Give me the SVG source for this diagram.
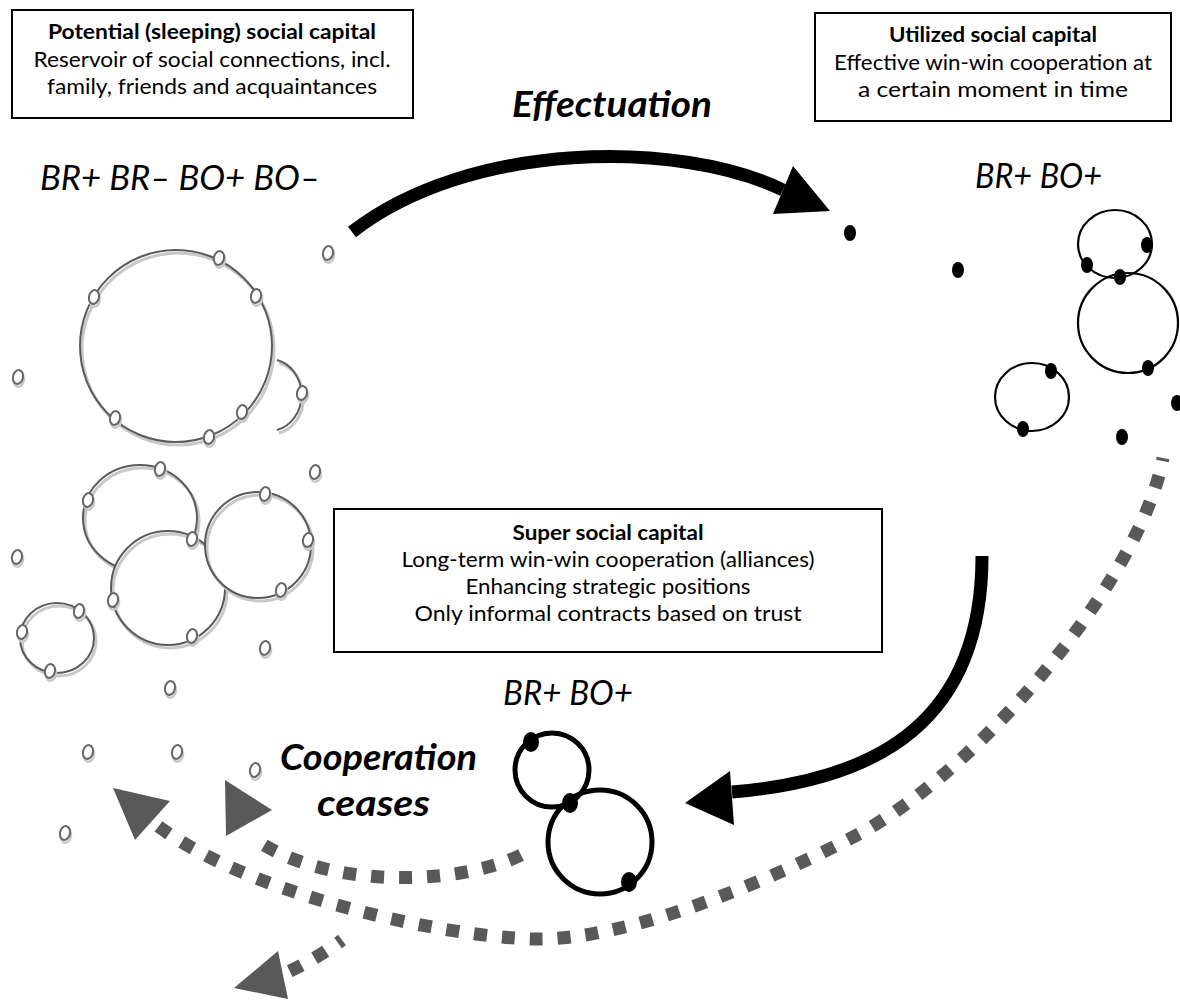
<svg xmlns="http://www.w3.org/2000/svg" xmlns:xlink="http://www.w3.org/1999/xlink" width="1180" height="1000" viewBox="0 0 1180 1000">
<style>
.box{fill:#fff;stroke:#000;stroke-width:2}
.bt{font-family:Lato,'Liberation Sans',sans-serif;font-size:21px;fill:#000;text-anchor:middle}
.b{font-weight:bold}
.it{font-family:Lato,'Liberation Sans',sans-serif;font-style:italic;font-size:34px;fill:#000}
.bi{font-family:Lato,'Liberation Sans',sans-serif;font-style:italic;font-weight:bold;font-size:36px;fill:#000}
.gsh{fill:none;stroke:#c8c8c8;stroke-width:3}
.gln{fill:none;stroke:#5a5a5a;stroke-width:2}
.wf{fill:#fff;stroke:none}
.nsh{fill:none;stroke:#c8c8c8;stroke-width:2.5}
.nln{fill:#fff;stroke:#666;stroke-width:2}
.kring{fill:none;stroke:#000;stroke-width:2.2}
.kdot{fill:#000}
.bring{fill:none;stroke:#000;stroke-width:5}
.thick{fill:none;stroke:#000;stroke-width:13}
.dash{fill:none;stroke:#595959;stroke-width:13;stroke-dasharray:13 15}
.dhead{fill:#595959}
</style>
<defs>
<g id="gn"><ellipse cx="1.5" cy="2.5" rx="5" ry="7" transform="rotate(12)" class="nsh"/><ellipse rx="5" ry="7" transform="rotate(12)" class="nln"/></g>
<ellipse id="kd" rx="6" ry="8" class="kdot"/>
<ellipse id="bd" rx="8" ry="10" class="kdot"/>
</defs>
<rect width="1180" height="1000" fill="#fff"/>

<g id="node-potential">
<rect class="box" x="12" y="10" width="401" height="108"/>
<text class="bt b" x="212" y="39" textLength="328" lengthAdjust="spacingAndGlyphs">Potential (sleeping) social capital</text>
<text class="bt" x="212" y="67" textLength="357" lengthAdjust="spacingAndGlyphs">Reservoir of social connections, incl.</text>
<text class="bt" x="212" y="94" textLength="330" lengthAdjust="spacingAndGlyphs">family, friends and acquaintances</text>
</g>

<g id="node-utilized">
<rect class="box" x="815" y="13" width="356" height="108"/>
<text class="bt b" x="993" y="42" textLength="208" lengthAdjust="spacingAndGlyphs">Utilized social capital</text>
<text class="bt" x="993" y="70" textLength="318" lengthAdjust="spacingAndGlyphs">Effective win-win cooperation at</text>
<text class="bt" x="993" y="97" textLength="270" lengthAdjust="spacingAndGlyphs">a certain moment in time</text>
</g>

<g id="node-super">
<rect class="box" x="334" y="509" width="548" height="143"/>
<text class="bt b" x="608" y="540" textLength="191" lengthAdjust="spacingAndGlyphs">Super social capital</text>
<text class="bt" x="608" y="567" textLength="413" lengthAdjust="spacingAndGlyphs">Long-term win-win cooperation (alliances)</text>
<text class="bt" x="608" y="594" textLength="285" lengthAdjust="spacingAndGlyphs">Enhancing strategic positions</text>
<text class="bt" x="608" y="621" textLength="387" lengthAdjust="spacingAndGlyphs">Only informal contracts based on trust</text>
</g>

<g id="labels">
<text class="bi" x="512" y="117" textLength="200" lengthAdjust="spacingAndGlyphs">Effectuation</text>
<text class="it" x="40" y="190" textLength="280" lengthAdjust="spacingAndGlyphs">BR+ BR– BO+ BO–</text>
<text class="it" x="975" y="188" textLength="127" lengthAdjust="spacingAndGlyphs">BR+ BO+</text>
<text class="it" x="503" y="705" textLength="130" lengthAdjust="spacingAndGlyphs">BR+ BO+</text>
<text class="bi" x="280" y="770" textLength="197" lengthAdjust="spacingAndGlyphs">Cooperation</text>
<text class="bi" x="317" y="816" textLength="113" lengthAdjust="spacingAndGlyphs">ceases</text>
</g>

<g id="node-potential-network">
<circle class="gsh" cx="178" cy="349" r="96"/>
<circle class="gln" cx="176" cy="346" r="96"/>
<path class="gsh" d="M 279 363 A 32 36 0 0 1 279 433"/>
<path class="gln" d="M 277 360 A 32 36 0 0 1 277 430"/>
<ellipse class="gsh" cx="142" cy="521" rx="57" ry="53"/>
<ellipse class="gln" cx="140" cy="518" rx="57" ry="53"/>
<circle class="wf" cx="168" cy="588" r="57"/>
<circle class="gsh" cx="170" cy="591" r="57"/>
<circle class="gln" cx="168" cy="588" r="57"/>
<circle class="wf" cx="258" cy="545" r="53"/>
<circle class="gsh" cx="260" cy="548" r="53"/>
<circle class="gln" cx="258" cy="545" r="53"/>
<ellipse class="gsh" cx="59" cy="641" rx="37" ry="35"/>
<ellipse class="gln" cx="57" cy="638" rx="37" ry="35"/>
<use xlink:href="#gn" x="94" y="297"/>
<use xlink:href="#gn" x="219" y="258"/>
<use xlink:href="#gn" x="256" y="296"/>
<use xlink:href="#gn" x="115" y="418"/>
<use xlink:href="#gn" x="209" y="437"/>
<use xlink:href="#gn" x="242" y="412"/>
<use xlink:href="#gn" x="302" y="393"/>
<use xlink:href="#gn" x="160" y="469"/>
<use xlink:href="#gn" x="88" y="500"/>
<use xlink:href="#gn" x="192" y="539"/>
<use xlink:href="#gn" x="113" y="600"/>
<use xlink:href="#gn" x="192" y="636"/>
<use xlink:href="#gn" x="265" y="494"/>
<use xlink:href="#gn" x="308" y="540"/>
<use xlink:href="#gn" x="281" y="590"/>
<use xlink:href="#gn" x="79" y="611"/>
<use xlink:href="#gn" x="22" y="632"/>
<use xlink:href="#gn" x="50" y="671"/>
<use xlink:href="#gn" x="328" y="253"/>
<use xlink:href="#gn" x="18" y="377"/>
<use xlink:href="#gn" x="315" y="472"/>
<use xlink:href="#gn" x="17" y="557"/>
<use xlink:href="#gn" x="265" y="648"/>
<use xlink:href="#gn" x="170" y="688"/>
<use xlink:href="#gn" x="88" y="752"/>
<use xlink:href="#gn" x="177" y="752"/>
<use xlink:href="#gn" x="255" y="770"/>
<use xlink:href="#gn" x="65" y="833"/>
</g>

<g id="node-utilized-network">
<ellipse class="kring" cx="1115" cy="244" rx="37" ry="34"/>
<circle class="kring" cx="1128" cy="323" r="50"/>
<ellipse class="kring" cx="1032" cy="397" rx="37" ry="34"/>
<use xlink:href="#kd" x="1147" y="245"/>
<use xlink:href="#kd" x="1087" y="265"/>
<use xlink:href="#kd" x="1120" y="277"/>
<use xlink:href="#kd" x="1148" y="368"/>
<use xlink:href="#kd" x="1051" y="371"/>
<use xlink:href="#kd" x="1023" y="429"/>
<use xlink:href="#kd" x="850" y="233"/>
<use xlink:href="#kd" x="958" y="270"/>
<use xlink:href="#kd" x="1122" y="437"/>
<use xlink:href="#kd" x="1177" y="403"/>
</g>

<g id="node-super-network">
<circle class="bring" cx="552" cy="770" r="37"/>
<circle class="bring" cx="600" cy="842" r="52"/>
<use xlink:href="#bd" x="531" y="742"/>
<use xlink:href="#bd" x="570" y="803"/>
<use xlink:href="#bd" x="629" y="882"/>
</g>

<g id="connectors">
<path class="thick" d="M 352 232 C 470 140 680 140 783 190"/>
<polygon points="793,166 830,211 773,214" fill="#000"/>
<path class="thick" d="M 982 556 C 982 720 880 780 732 792"/>
<polygon points="685,803 730,771 734,825" fill="#000"/>
<path class="dash" style="stroke-dashoffset:10" d="M 1163 458 C 1140 580 980 770 857 835 C 783 874 630 942 532 939 C 440 936 250 895 158 826"/>
<polygon class="dhead" points="113,788 170,801 135,840"/>
<path class="dash" d="M 521 855 C 460 885 330 890 256 840"/>
<polygon class="dhead" points="225,780 272,810 226,836"/>
<path class="dash" style="stroke-dashoffset:8" d="M 342 940 Q 318 958 288 972"/>
<polygon class="dhead" points="234,988 278,951 288,999"/>
</g>
</svg>
